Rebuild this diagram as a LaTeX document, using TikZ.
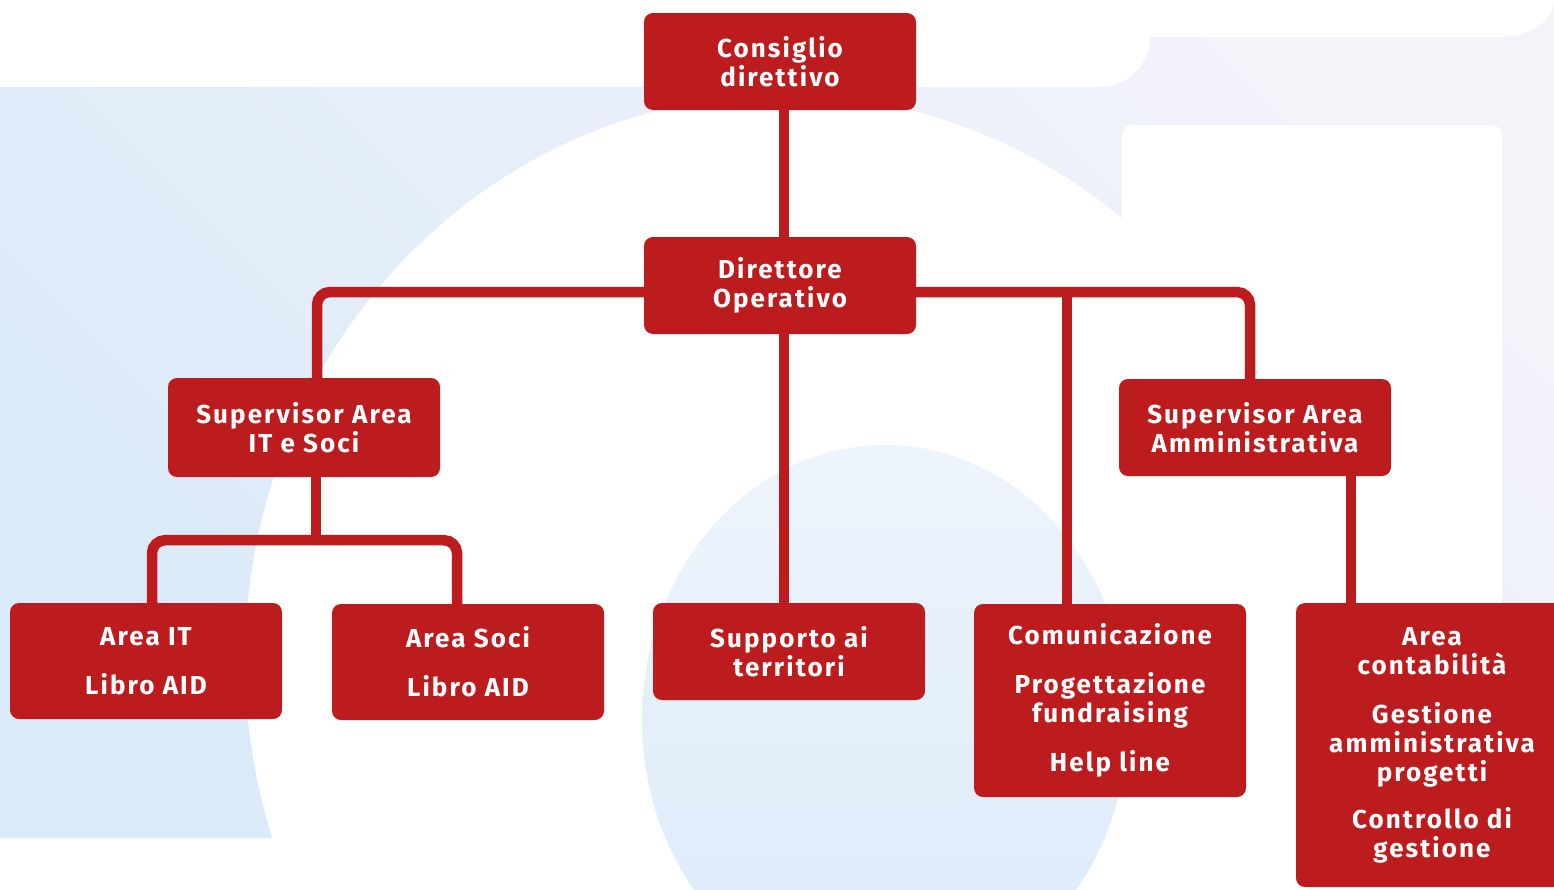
\documentclass[tikz,border=0pt]{standalone}
\usepackage{fontspec}
\setmainfont{Fira Sans}[LetterSpace=8]
\usetikzlibrary{backgrounds}
\definecolor{aidred}{HTML}{BD1C1F}
\definecolor{bgblue}{HTML}{DAEAF9}
\definecolor{bglav}{HTML}{F3F3FA}
\definecolor{ellblue}{HTML}{DBEAF9}
\definecolor{elltop}{HTML}{EEF4FB}
\begin{document}
\begin{tikzpicture}[x=1pt,y=-1pt,
  box/.style={fill=aidred, rounded corners=9pt, minimum width=272pt, inner sep=0pt,
    align=center, text=white, font=\bfseries\fontsize{26}{29}\selectfont},
  conn/.style={draw=aidred, line width=10.5pt},
  rc/.style={rounded corners=13pt}]
\useasboundingbox (0,0) rectangle (1554,889);

% nodes
\node[box, minimum height=97pt]  (cons)   at (780,61.5)  {Consiglio\\direttivo};
\node[box, minimum height=97pt]  (dir)    at (780,285.5) {Direttore\\Operativo};
\node[box, minimum height=99pt]  (supit)  at (304,427.5) {Supervisor Area\\IT e Soci};
\node[box, minimum height=97pt]  (supamm) at (1255,427.5) {Supervisor Area\\Amministrativa};
\node[box, minimum height=116pt] (ait)    at (146,661)   {Area IT\\[20pt]Libro AID};
\node[box, minimum height=116pt] (asoc)   at (468,662)   {Area Soci\\[20pt]Libro AID};
\node[box, minimum height=97pt]  (supp)   at (789,651.5) {Supporto ai\\territori};
\node[box, minimum height=193pt] (comm)   at (1110,700.5) {Comunicazione\\[20pt]Progettazione\\fundraising\\[20pt]Help line};
\node[box, minimum height=284pt] (acont)  at (1432,745)  {Area\\contabilità\\[20pt]Gestione\\amministrativa\\progetti\\[18pt]Controllo di\\gestione};

\begin{scope}[on background layer]
  % background
  \fill[white] (0,0) rectangle (1554,889);
  \shade[top color=bglav, bottom color=bgblue, shading angle=-45]
    (0,87) -- (1100,87) .. controls (1128,87) and (1150,65) .. (1150,37)
    -- (1502,37) .. controls (1530,37) and (1554,20) .. (1554,0)
    -- (1554,838) -- (0,838) -- cycle;
  \fill[white] (785,660) ellipse [x radius=540pt, y radius=565pt];
  \fill[white, rounded corners=10pt] (1122,125) rectangle (1502,900);
  \shade[top color=elltop, bottom color=ellblue] (885,720) ellipse [x radius=243pt, y radius=275pt];

  % connectors
  \coordinate (jl) at ([yshift=-6.5pt]dir.west);
  \coordinate (jr) at ([yshift=-6.5pt]dir.east);
  \coordinate (jit) at ([xshift=12pt,yshift=-63pt]supit.south);
  \draw[conn] ([xshift=4pt]cons.south) -- ([xshift=4pt]dir.north);
  \draw[conn] ([xshift=4pt]dir.south) -- ([xshift=4pt]dir.south |- supp.north);
  \draw[conn,rc] (jl) -| ([xshift=13pt]supit.north);
  \draw[conn,rc] (jr) -| ([xshift=-5pt]supamm.north);
  \draw[conn] ([xshift=-43pt]comm.north) -- ([xshift=-43pt]comm.north |- jr);
  \draw[conn] ([xshift=12pt]supit.south) -- (jit);
  \draw[conn,rc] ([xshift=6pt]ait.north) |- (jit) -| ([xshift=-11pt]asoc.north);
  \draw[conn] ([xshift=96pt]supamm.south) -- ([xshift=96pt]supamm.south |- acont.north);
\end{scope}
\end{tikzpicture}
\end{document}
